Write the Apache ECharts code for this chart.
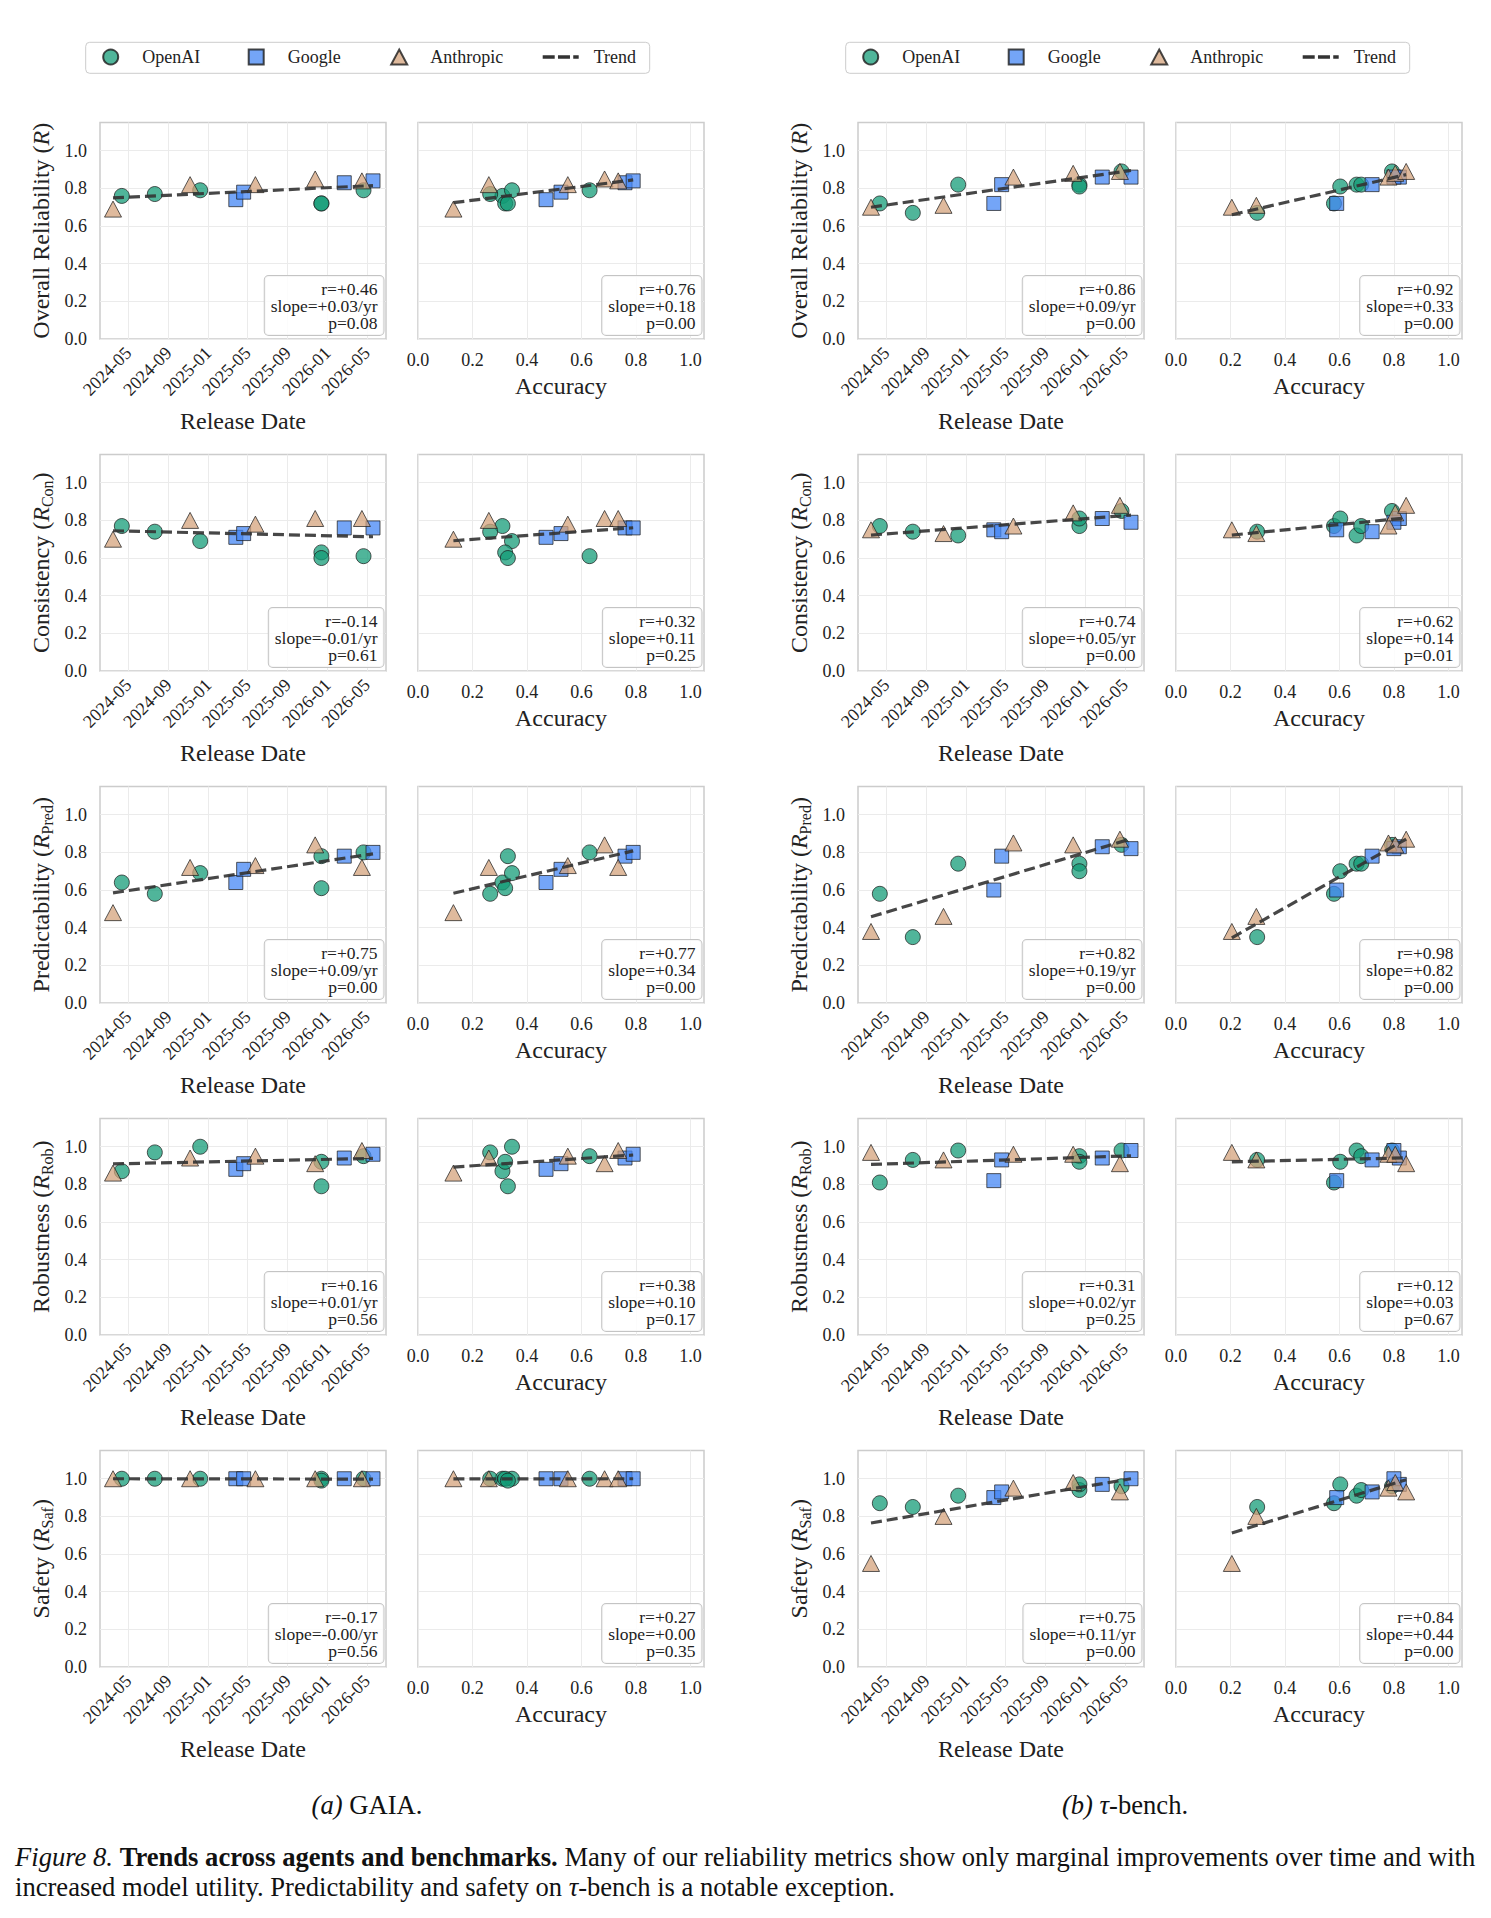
<!DOCTYPE html>
<html>
<head>
<meta charset="utf-8">
<title>Trends across agents and benchmarks</title>
<script src="https://cdn.jsdelivr.net/npm/echarts@6.0.0/dist/echarts.min.js"></script>
<style>
  html, body { margin: 0; padding: 0; background: #fff; }
  #chart { width: 1491px; height: 1918px; }
</style>
</head>
<body>
<div id="chart"></div>
<script>
// ---- values ----
const metricNames = ["Overall Reliability", "Consistency", "Predictability", "Robustness", "Safety"];
const metricSubs = ["", "Con", "Pred", "Rob", "Saf"];
const dateTicks = ["2024-05", "2024-09", "2025-01", "2025-05", "2025-09", "2026-01", "2026-05"];
const accTicks = [0, 0.2, 0.4, 0.6, 0.8, 1.0];
const yTicks = [0, 0.2, 0.4, 0.6, 0.8, 1.0];

// release dates (OpenAI / Google models are the same on both benchmarks)
const openaiDates = ["2024-04-11", "2024-07-21", "2024-12-07", "2025-12-13", "2025-12-13", "2026-04-21"];
const googleDates = ["2025-03-26", "2025-04-19", "2026-02-21", "2026-05-20"];
const anthropicDatesGaia = ["2024-03-15", "2024-11-06", "2025-05-25", "2025-11-24", "2026-04-16"];
const anthropicDatesTau = ["2024-03-15", "2024-10-23", "2025-05-25", "2025-11-24", "2026-04-16"];

// accuracy
const gaiaAccOpenAI = [0.31, 0.265, 0.345, 0.32, 0.33, 0.63];
const gaiaAccGoogle = [0.47, 0.525, 0.76, 0.79];
const gaiaAccAnthropic = [0.13, 0.26, 0.55, 0.685, 0.735];
const tauAccOpenAI = [0.58, 0.298, 0.663, 0.68, 0.603, 0.793];
const tauAccGoogle = [0.59, 0.72, 0.82, 0.8];
const tauAccAnthropic = [0.205, 0.295, 0.78, 0.805, 0.845];

// metric values, rows = R, Con, Pred, Rob, Saf
const gaiaOpenAI = [
  [0.76, 0.77, 0.79, 0.72, 0.72, 0.79],
  [0.77, 0.74, 0.69, 0.63, 0.6, 0.61],
  [0.64, 0.58, 0.69, 0.61, 0.78, 0.8],
  [0.87, 0.97, 1.0, 0.92, 0.79, 0.95],
  [1.0, 1.0, 1.0, 1.0, 0.99, 1.0]
];
const gaiaGoogle = [
  [0.74, 0.78, 0.83, 0.84],
  [0.71, 0.73, 0.76, 0.76],
  [0.64, 0.71, 0.78, 0.8],
  [0.88, 0.91, 0.94, 0.96],
  [1.0, 1.0, 1.0, 1.0]
];
const gaiaAnthropic = [
  [0.69, 0.82, 0.82, 0.85, 0.84],
  [0.7, 0.8, 0.78, 0.81, 0.81],
  [0.48, 0.72, 0.73, 0.84, 0.72],
  [0.86, 0.94, 0.95, 0.91, 0.98],
  [1.0, 1.0, 1.0, 1.0, 1.0]
];
const tauOpenAI = [
  [0.72, 0.67, 0.82, 0.82, 0.81, 0.89],
  [0.77, 0.74, 0.72, 0.77, 0.81, 0.85],
  [0.58, 0.35, 0.74, 0.74, 0.7, 0.84],
  [0.81, 0.93, 0.98, 0.95, 0.92, 0.98],
  [0.87, 0.85, 0.91, 0.94, 0.97, 0.96]
];
const tauGoogle = [
  [0.72, 0.82, 0.86, 0.86],
  [0.75, 0.74, 0.81, 0.79],
  [0.6, 0.78, 0.83, 0.82],
  [0.82, 0.93, 0.94, 0.98],
  [0.9, 0.93, 0.97, 1.0]
];
const tauAnthropic = [
  [0.7, 0.71, 0.86, 0.88, 0.89],
  [0.75, 0.73, 0.77, 0.84, 0.88],
  [0.38, 0.46, 0.85, 0.84, 0.87],
  [0.97, 0.93, 0.96, 0.96, 0.91],
  [0.55, 0.8, 0.95, 0.98, 0.93]
];

// trend line end values [at first x, at last x]
const gaiaTrendDate = [[0.75, 0.815], [0.745, 0.713], [0.585, 0.792], [0.909, 0.938], [1.0, 0.998]];
const gaiaTrendAcc = [[0.724, 0.845], [0.692, 0.761], [0.583, 0.808], [0.892, 0.956], [0.999, 1.0]];
const tauTrendDate = [[0.7, 0.895], [0.722, 0.828], [0.458, 0.872], [0.906, 0.952], [0.765, 1.0]];
const tauTrendAcc = [[0.66, 0.873], [0.722, 0.813], [0.346, 0.871], [0.92, 0.941], [0.712, 0.995]];

// annotation boxes [r, slope, p]
const gaiaStatsDate = [["+0.46", "+0.03", "0.08"], ["-0.14", "-0.01", "0.61"], ["+0.75", "+0.09", "0.00"], ["+0.16", "+0.01", "0.56"], ["-0.17", "-0.00", "0.56"]];
const gaiaStatsAcc = [["+0.76", "+0.18", "0.00"], ["+0.32", "+0.11", "0.25"], ["+0.77", "+0.34", "0.00"], ["+0.38", "+0.10", "0.17"], ["+0.27", "+0.00", "0.35"]];
const tauStatsDate = [["+0.86", "+0.09", "0.00"], ["+0.74", "+0.05", "0.00"], ["+0.82", "+0.19", "0.00"], ["+0.31", "+0.02", "0.25"], ["+0.75", "+0.11", "0.00"]];
const tauStatsAcc = [["+0.92", "+0.33", "0.00"], ["+0.62", "+0.14", "0.01"], ["+0.98", "+0.82", "0.00"], ["+0.12", "+0.03", "0.67"], ["+0.84", "+0.44", "0.00"]];

// ---- styling / layout ----
const FONT = "'Liberation Serif', 'Times New Roman', serif";
const TXT = "#222";
const COLORS = { OpenAI: "rgba(18,155,118,0.92)", Google: "rgba(66,133,244,0.92)", Anthropic: "rgba(212,162,122,0.92)" };
const PW = 286, PH = 216.5, ROW0 = 122.5, PITCH = 332;
const COLS = [100, 418, 858, 1176];

function toTime(s) {
  const p = s.split("-").map(Number);
  return new Date(p[0], p[1] - 1, p[2] || 1).getTime();
}
function fmtDate(v) {
  const d = new Date(v);
  return d.getFullYear() + "-" + String(d.getMonth() + 1).padStart(2, "0");
}
const dateTickVals = dateTicks.map(toTime);

const benches = [
  {
    col: 0,
    dates: [openaiDates, googleDates, anthropicDatesGaia],
    acc: [gaiaAccOpenAI, gaiaAccGoogle, gaiaAccAnthropic],
    vals: [gaiaOpenAI, gaiaGoogle, gaiaAnthropic],
    trend: [gaiaTrendDate, gaiaTrendAcc],
    stats: [gaiaStatsDate, gaiaStatsAcc]
  },
  {
    col: 2,
    dates: [openaiDates, googleDates, anthropicDatesTau],
    acc: [tauAccOpenAI, tauAccGoogle, tauAccAnthropic],
    vals: [tauOpenAI, tauGoogle, tauAnthropic],
    trend: [tauTrendDate, tauTrendAcc],
    stats: [tauStatsDate, tauStatsAcc]
  }
];
const companies = ["OpenAI", "Google", "Anthropic"];
const symbols = [["circle", 15], ["rect", 14], ["triangle", [17, 16]]];

let grids = [], xAxes = [], yAxes = [], series = [], graphics = [];

function yName(m) {
  if (!metricSubs[m]) return "{n|" + metricNames[m] + " (}{i|R}{n|)}";
  return "{n|" + metricNames[m] + " (}{i|R}{s|" + metricSubs[m] + "}{n|)}";
}

benches.forEach(b => {
  let allT = [].concat(...b.dates).map(toTime);
  let tMin = Math.min(...allT), tMax = Math.max(...allT);
  let pad = (tMax - tMin) * 0.05;
  let allAcc = [].concat(...b.acc);
  let aMin = Math.min(...allAcc), aMax = Math.max(...allAcc);

  for (let m = 0; m < 5; m++) {
    for (let k = 0; k < 2; k++) {
      let g = grids.length;
      let left = COLS[b.col + k], top = ROW0 + PITCH * m;
      grids.push({
        left: left, top: top, width: PW, height: PH,
        show: true, backgroundColor: "#fff", borderColor: "#cccccc", borderWidth: 1.5,
        containLabel: false, outerBoundsMode: "none"
      });
      let lab = { fontFamily: FONT, fontSize: 18, color: TXT };
      if (k === 0) {
        xAxes.push({
          type: "value", gridIndex: g, min: tMin - pad, max: tMax + pad,
          axisLine: { show: false }, axisTick: { show: false, customValues: dateTickVals },
          axisLabel: Object.assign({ customValues: dateTickVals, formatter: fmtDate, rotate: 45, margin: 11 }, lab),
          splitLine: { show: true, lineStyle: { color: "#ebebeb", width: 1 } },
          name: "Release Date", nameLocation: "middle", nameGap: 70,
          nameTextStyle: { fontFamily: FONT, fontSize: 24, color: TXT }
        });
      } else {
        xAxes.push({
          type: "value", gridIndex: g, min: 0, max: 1.05, interval: 0.2,
          axisLine: { show: false }, axisTick: { show: false, customValues: accTicks },
          axisLabel: Object.assign({ customValues: accTicks, formatter: v => v.toFixed(1), margin: 12 }, lab),
          splitLine: { show: true, lineStyle: { color: "#ebebeb", width: 1 } },
          name: "Accuracy", nameLocation: "middle", nameGap: 35,
          nameTextStyle: { fontFamily: FONT, fontSize: 24, color: TXT }
        });
      }
      yAxes.push({
        type: "value", gridIndex: g, min: 0, max: 1.15, interval: 0.2,
        axisLine: { show: false }, axisTick: { show: false, customValues: yTicks },
        axisLabel: Object.assign({ show: k === 0, customValues: yTicks, formatter: v => v.toFixed(1), margin: 13 }, lab),
        splitLine: { show: true, lineStyle: { color: "#ebebeb", width: 1 } },
        name: k === 0 ? yName(m) : "", nameLocation: "middle", nameGap: 45,
        nameTextStyle: {
          fontFamily: FONT, fontSize: 24, color: TXT,
          rich: {
            n: { fontFamily: FONT, fontSize: 24, color: TXT, lineHeight: 28 },
            i: { fontFamily: FONT, fontSize: 24, color: TXT, fontStyle: "italic", lineHeight: 28 },
            s: { fontFamily: FONT, fontSize: 16, color: TXT, lineHeight: 16, verticalAlign: "bottom" }
          }
        }
      });

      companies.forEach((c, ci) => {
        let xs = k === 0 ? b.dates[ci].map(toTime) : b.acc[ci];
        let ys = b.vals[ci][m];
        series.push({
          name: c, type: "scatter", xAxisIndex: g, yAxisIndex: g,
          symbol: symbols[ci][0], symbolSize: symbols[ci][1],
          itemStyle: { color: COLORS[c], borderColor: "#1a1a1a", borderWidth: 0.9 },
          data: xs.map((x, i) => [x, ys[i]]),
          z: 2
        });
      });
      let tr = b.trend[k][m];
      let x0 = k === 0 ? tMin : aMin, x1 = k === 0 ? tMax : aMax;
      series.push({
        name: "Trend", type: "line", xAxisIndex: g, yAxisIndex: g,
        symbol: "none", silent: true, z: 5,
        lineStyle: { color: "#333", width: 3.2, type: [11, 5], opacity: 0.9 },
        itemStyle: { color: "#333" },
        data: [[x0, tr[0]], [x1, tr[1]]]
      });

      let st = b.stats[k][m];
      graphics.push({
        type: "text", x: left + PW - 2.5, y: top + PH - 4, z: 20,
        style: {
          text: "r=" + st[0] + "\nslope=" + st[1] + (k === 0 ? "/yr" : "") + "\np=" + st[2],
          align: "right", verticalAlign: "bottom",
          fontFamily: FONT, fontSize: 17.5, lineHeight: 17, fill: TXT,
          backgroundColor: "rgba(255,255,255,0.85)", borderColor: "#c4c4c4", borderWidth: 1,
          borderRadius: 4, padding: [4, 6, 4, 6]
        }
      });
    }
  }
});

// sub-captions and figure caption
const CAP = 26.6;
const capRich = {
  it: { fontFamily: FONT, fontSize: CAP, fontStyle: "italic", fill: "#111" },
  b: { fontFamily: FONT, fontSize: CAP, fontWeight: "bold", fill: "#111" }
};
function capText(x, y, text, align) {
  return { type: "text", x: x, y: y, style: { text: text, align: align, verticalAlign: "middle", fontFamily: FONT, fontSize: CAP, fill: "#111", rich: capRich } };
}
graphics.push(
  capText(367, 1805, "{it|(a)} GAIA.", "center"),
  capText(1125, 1805, "{it|(b)} {it|τ}-bench.", "center"),
  capText(15, 1857, "{it|Figure 8.} {b|Trends across agents and benchmarks.} Many of our reliability metrics show only marginal improvements over time and with", "left"),
  capText(15, 1887, "increased model utility. Predictability and safety on {it|τ}-bench is a notable exception.", "left")
);

// legends: one component per entry so each handle sits where the reference puts it
const trendIcon = "path://M0,0h11v3h-11z M14,0h11v3h-11z M28,0h5v3h-5z";
const legendItems = [
  { name: "OpenAI", dx: 16.5, w: 15, gap: 19 },
  { name: "Google", dx: 162, w: 15, gap: 19 },
  { name: "Anthropic", dx: 304.5, w: 16, gap: 18 },
  { name: "Trend", dx: 457, w: 36, gap: 10, icon: trendIcon }
];
let legends = [];
[85.7, 845.7].forEach(bx => {
  graphics.push({
    type: "rect", z: 0, silent: true,
    shape: { x: bx, y: 42.3, width: 564, height: 31, r: 4 },
    style: { fill: "#fff", stroke: "#cccccc", lineWidth: 1 }
  });
  legendItems.forEach(it => {
    legends.push({
      left: bx + it.dx, top: 48, padding: 0, z: 10,
      data: [it.icon ? { name: it.name, icon: it.icon } : it.name],
      itemWidth: it.w, itemHeight: 15, symbolKeepAspect: true,
      textStyle: { fontFamily: FONT, fontSize: 18, color: TXT, padding: [0, 0, 0, it.gap] },
      selectedMode: false
    });
  });
});

const chart = echarts.init(document.getElementById("chart"), null, { renderer: "svg" });
chart.setOption({
  animation: false,
  backgroundColor: "#fff",
  legend: legends,
  grid: grids,
  xAxis: xAxes,
  yAxis: yAxes,
  series: series,
  graphic: graphics
});
window.addEventListener("resize", function () {
  chart.resize();
});
</script>
</body>
</html>
